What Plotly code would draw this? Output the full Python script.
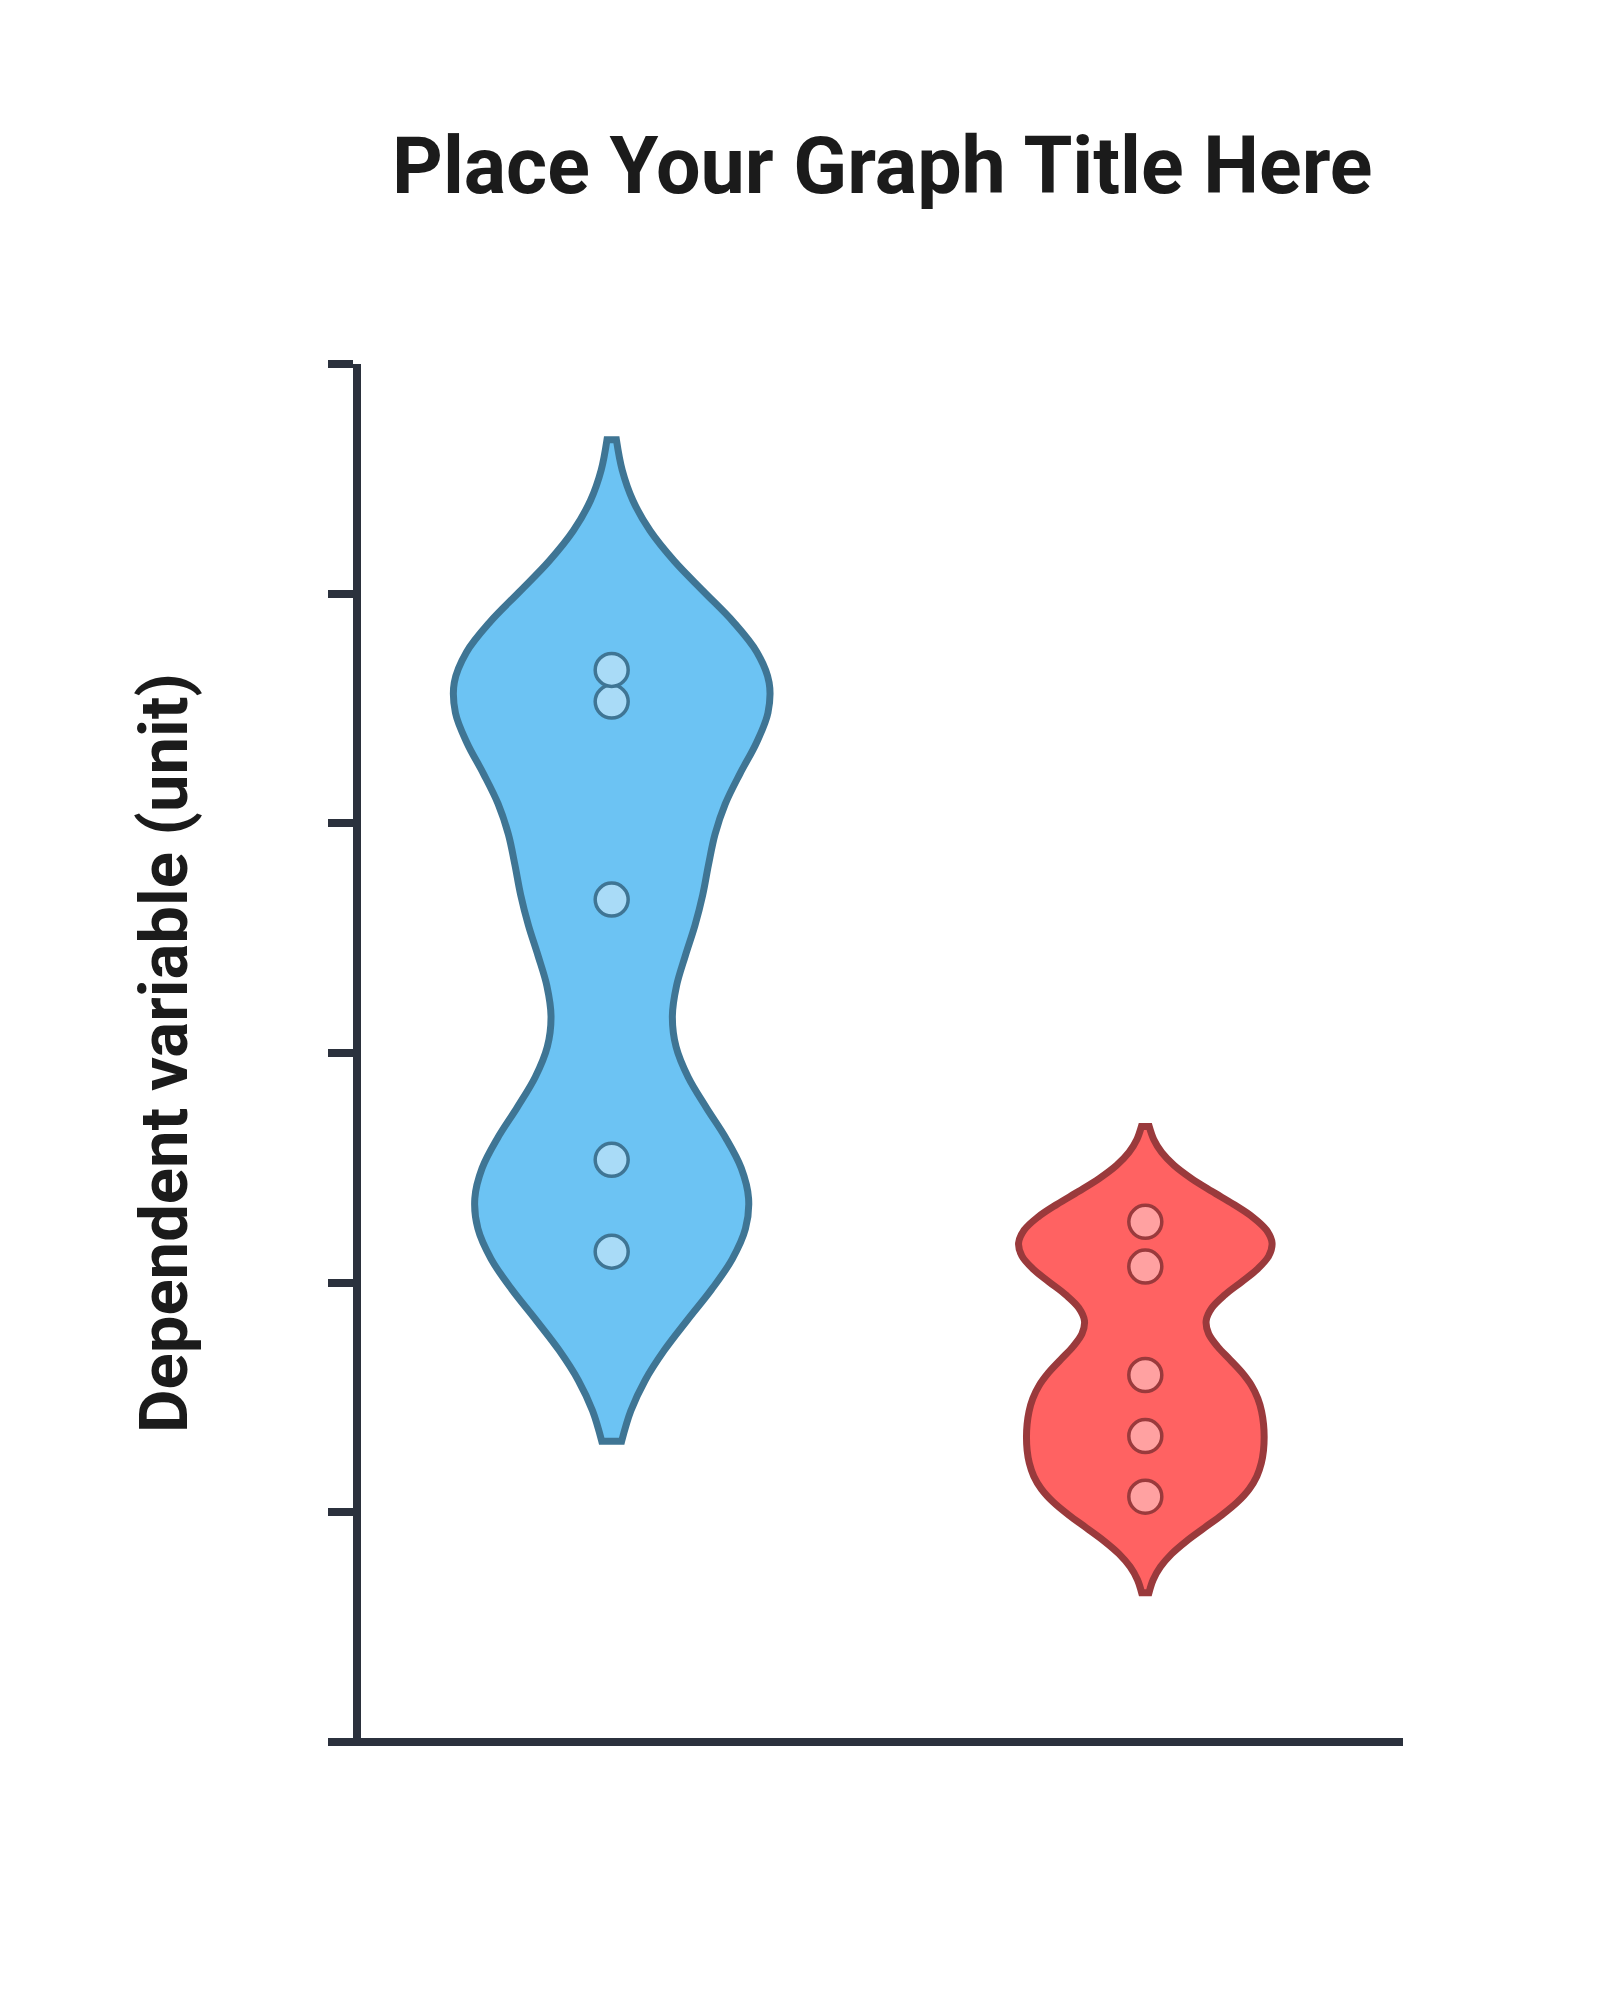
import plotly.graph_objects as go

# ---- data ----
group_names = ["Group A", "Group B"]
group_positions = [0, 1]
group_a_values = [4.668, 4.530, 3.668, 2.535, 2.135]
group_b_values = [2.265, 2.070, 1.598, 1.332, 1.068]
group_a_span = [1.31, 5.67]
group_b_span = [0.65, 2.68]
group_a_bandwidth = 0.40
group_b_bandwidth = 0.17
y_tick_values = [0, 1, 2, 3, 4, 5, 6]

title_text = "Place Your Graph Title Here"
y_title_text = "Dependent variable (unit)"

AXIS_COLOR = "#2b313d"
FONT = "Roboto"

fig = go.Figure()

styles = [
    dict(fill="#6cc3f3", line="#3f7594", pfill="#a9dbf7", width=0.59),
    dict(fill="#ff6262", line="#9a3a3c", pfill="#ffa1a1", width=0.475),
]
values = [group_a_values, group_b_values]
spans = [group_a_span, group_b_span]
bws = [group_a_bandwidth, group_b_bandwidth]

for i in range(2):
    s = styles[i]
    fig.add_trace(go.Violin(
        x=[group_positions[i]] * len(values[i]),
        y=values[i],
        name=group_names[i],
        bandwidth=bws[i],
        spanmode="manual",
        span=spans[i],
        scalemode="width",
        width=s["width"],
        fillcolor=s["fill"],
        line=dict(color=s["line"], width=7),
        points="all",
        pointpos=0,
        jitter=0,
        marker=dict(size=33, color=s["pfill"],
                    line=dict(color=s["line"], width=3.5)),
        box_visible=False,
        meanline_visible=False,
        showlegend=False,
        hoverinfo="y",
    ))

fig.update_layout(
    width=1600,
    height=2000,
    margin=dict(l=361, r=197, t=364, b=258, pad=0),
    paper_bgcolor="white",
    plot_bgcolor="white",
    violingap=0,
    violingroupgap=0,
    violinmode="overlay",
    font=dict(family=FONT, color="#1b1b1b"),
    xaxis=dict(
        range=[-0.4698, 1.4829],
        showline=False,
        showticklabels=False, ticks="", showgrid=False, zeroline=False,
    ),
    yaxis=dict(
        range=[0, 6],
        tickmode="array", tickvals=y_tick_values,
        ticks="outside", ticklen=25, tickwidth=8, tickcolor=AXIS_COLOR,
        showline=True, linecolor=AXIS_COLOR, linewidth=8,
        showticklabels=False, showgrid=False, zeroline=False,
    ),
    shapes=[
        dict(type="line", xref="paper", yref="paper", x0=-8 / 1042, x1=1,
             y0=0, y1=0, line=dict(color=AXIS_COLOR, width=8), layer="above"),
    ],
    annotations=[
        dict(text="<b>" + title_text + "</b>", xref="paper", yref="paper",
             x=0.5, y=(1742 - 166) / 1378, xanchor="center", yanchor="middle",
             showarrow=False, font=dict(family=FONT, size=79, color="#1b1b1b")),
        dict(text="<b>" + y_title_text + "</b>", xref="paper", yref="paper",
             x=(164 - 361) / 1042, y=0.5, xanchor="center", yanchor="middle",
             textangle=-90, showarrow=False,
             font=dict(family=FONT, size=67, color="#1b1b1b")),
    ],
)

fig.write_html("out.html")
